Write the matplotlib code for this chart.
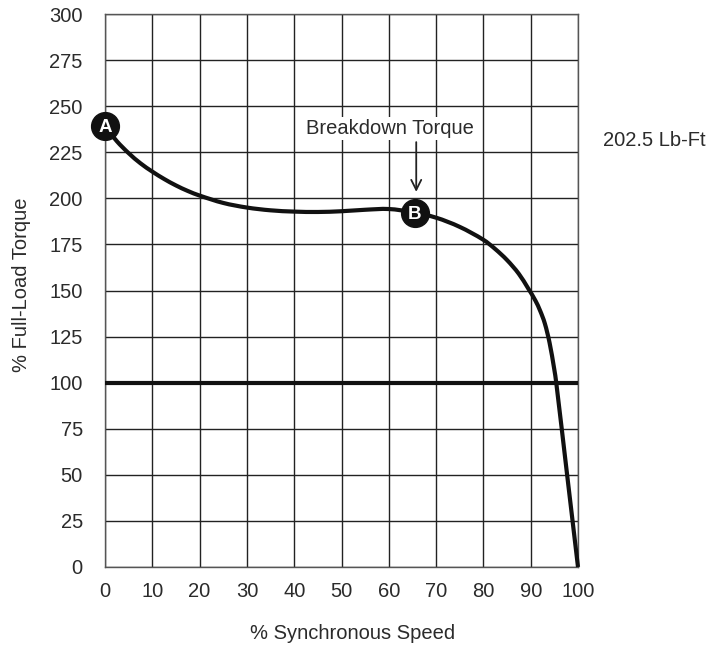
import matplotlib
matplotlib.use("Agg")
import matplotlib.pyplot as plt
from matplotlib.path import Path
from matplotlib.patches import PathPatch

plt.rcParams["font.family"] = ["Liberation Sans", "DejaVu Sans"]

# % synchronous speed vs % full-load torque
speed = [0, 2.5, 5, 7.5, 10, 12.5, 15, 17.5, 20, 25, 30, 35, 40, 45, 50, 55, 60, 65,
         70, 75, 80, 82.5, 85, 87.5, 89.5, 91, 92, 93, 94, 95, 95.4, 97.7, 100]
torque = [239, 231, 224.5, 219, 214.5, 210.5, 207, 204, 201.5, 197.5, 195, 193.5, 192.8,
          192.6, 193, 193.8, 194.2, 192.5, 189.5, 184.5, 177.5, 172.5, 166.5, 159, 151,
          144.5, 139, 132, 121.5, 107, 100, 50, 0]
full_load = 100
points = [("A", 0, 239), ("B", 65.5, 192)]
x_ticks = list(range(0, 101, 10))
y_ticks = list(range(0, 301, 25))
ink = "#111111"
text_col = "#2b2b2b"

fig = plt.figure(figsize=(7.16, 6.48), dpi=100)
W, H = 716, 648
ax = fig.add_axes([105 / W, 1 - 567 / H, (578 - 105) / W, (567 - 14) / H])

ax.set_xlim(0, 100)
ax.set_ylim(0, 300)
ax.set_xticks(x_ticks)
ax.set_yticks(y_ticks)
ax.tick_params(length=0, labelsize=14.5, colors=text_col)
ax.tick_params(axis="y", pad=16)
ax.tick_params(axis="x", pad=11)
ax.grid(True, color="#222222", lw=1.0)
for s in ax.spines.values():
    s.set_color("#555555")
    s.set_linewidth(1.0)

ax.axhline(full_load, color=ink, lw=3, zorder=3)

# smooth curve through the read points (cubic Hermite segments)
n = len(speed)
slopes = []
for i in range(n):
    a, b = max(i - 1, 0), min(i + 1, n - 1)
    slopes.append((torque[b] - torque[a]) / (speed[b] - speed[a]))
verts = [(speed[0], torque[0])]
codes = [Path.MOVETO]
for i in range(n - 1):
    h = speed[i + 1] - speed[i]
    verts += [(speed[i] + h / 3, torque[i] + slopes[i] * h / 3),
              (speed[i + 1] - h / 3, torque[i + 1] - slopes[i + 1] * h / 3),
              (speed[i + 1], torque[i + 1])]
    codes += [Path.CURVE4] * 3
ax.add_patch(PathPatch(Path(verts, codes), facecolor="none", edgecolor=ink,
                       lw=3, zorder=4, clip_on=False, capstyle="butt"))

for label, x, y in points:
    ax.plot(x, y, "o", ms=20, color=ink, zorder=5, clip_on=False)
    ax.text(x, y - 0.5, label, color="white", fontsize=13.5, fontweight="bold",
            ha="center", va="center", zorder=6)

ax.annotate("", xy=(65.8, 202), xytext=(65.8, 232),
            arrowprops=dict(arrowstyle="->", color="#222222", lw=1.3, mutation_scale=18), zorder=5)
ax.text(60.2, 238, "Breakdown Torque", fontsize=14.5, color=text_col,
        ha="center", va="center",
        bbox=dict(facecolor="white", edgecolor="none", pad=1.5))

fig.text(603 / W, 1 - 140 / H, "202.5 Lb-Ft", fontsize=14.5, color=text_col, va="center")

ax.set_xlabel("% Synchronous Speed", fontsize=14.5, color=text_col, va="center")
ax.xaxis.set_label_coords(0.523, -0.121)
ax.set_ylabel("% Full-Load Torque", fontsize=14.5, color=text_col, va="center")
ax.yaxis.set_label_coords(-0.177, 0.51)

fig.savefig("out.png", dpi=100)
